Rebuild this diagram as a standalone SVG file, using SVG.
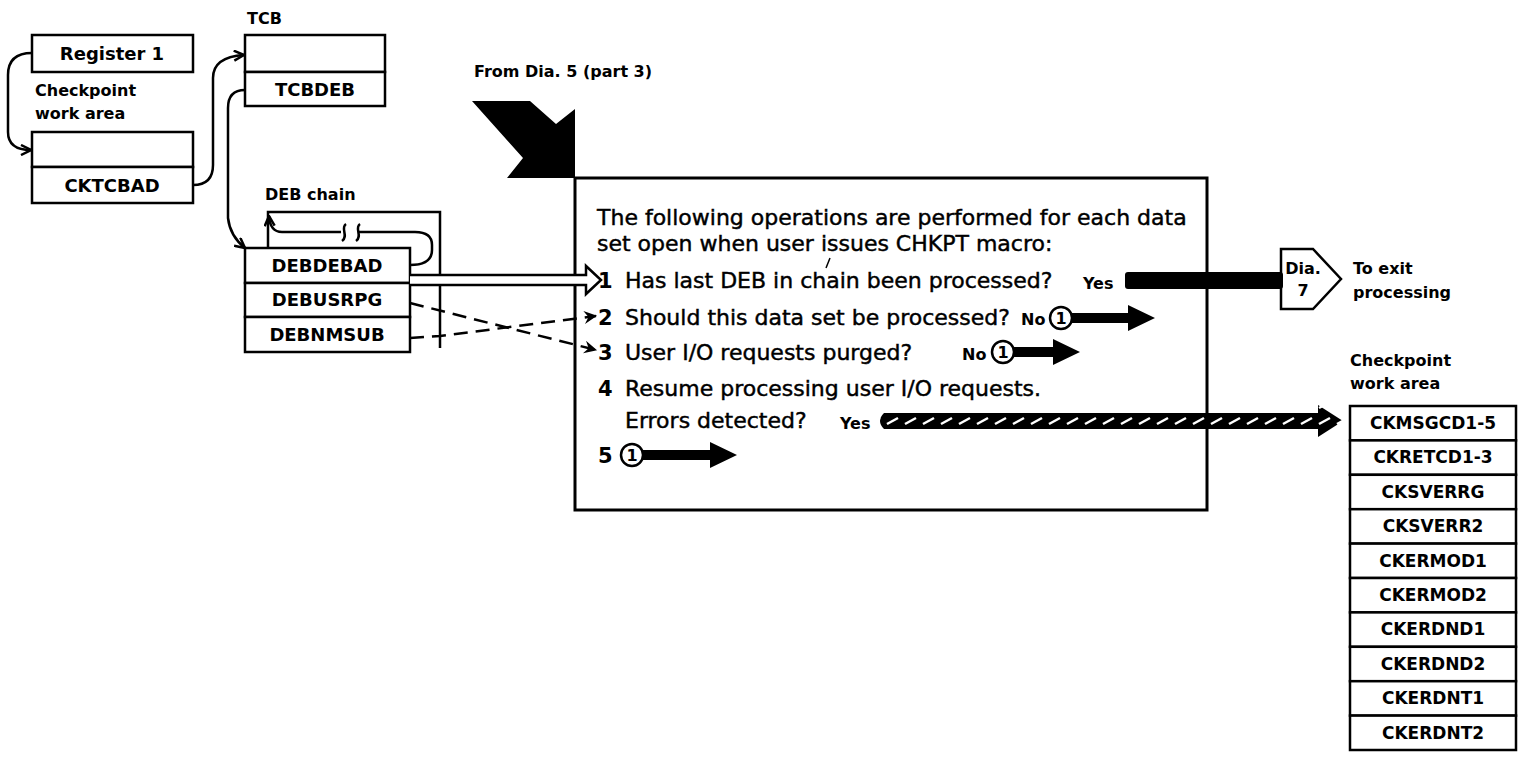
<svg xmlns="http://www.w3.org/2000/svg" width="1522" height="775" viewBox="0 0 1522 775">
  <defs>
    <style>
      .box { fill: #fff; stroke: #000; stroke-width: 2.5; }
      .lbl { font-family: 'DejaVu Sans', 'Liberation Sans', sans-serif; font-weight: bold; font-size: 18px; text-anchor: middle; fill: #000; }
      .lst { font-family: 'DejaVu Sans', 'Liberation Sans', sans-serif; font-weight: bold; font-size: 17px; text-anchor: middle; fill: #000; }
      .cap { font-family: 'DejaVu Sans', 'Liberation Sans', sans-serif; font-weight: bold; font-size: 16px; fill: #000; }
      .body { font-family: 'DejaVu Sans', 'Liberation Sans', sans-serif; font-size: 22px; fill: #000; stroke: #000; stroke-width: 0.45; }
      .num { font-family: 'DejaVu Sans', 'Liberation Sans', sans-serif; font-weight: bold; font-size: 21px; fill: #000; }
      .small { font-family: 'DejaVu Sans', 'Liberation Sans', sans-serif; font-weight: bold; font-size: 16px; fill: #000; }
      .conn { fill: none; stroke: #000; stroke-width: 2.5; }
      .dash { stroke-dasharray: 14 8; }
      .solid { fill: #000; stroke: none; }
      .ring { fill: #fff; stroke: #000; stroke-width: 2.5; }
    </style>
    <marker id="chev" viewBox="0 0 12 12" refX="11" refY="6" markerWidth="12" markerHeight="12" markerUnits="userSpaceOnUse" orient="auto">
      <path d="M1,1 L11,6 L1,11" fill="none" stroke="#000" stroke-width="2.5"/>
    </marker>
    <marker id="dart" viewBox="0 0 12 12" refX="11" refY="6" markerWidth="13" markerHeight="13" markerUnits="userSpaceOnUse" orient="auto">
      <path d="M0,0 L12,6 L0,12 L4,6 Z" fill="#000"/>
    </marker>
    <pattern id="hatch" x="884" y="413" width="18" height="16" patternUnits="userSpaceOnUse">
      <rect width="18" height="16" fill="#000"/>
      <path d="M3,11 L14,5" stroke="#fff" stroke-width="2.5"/>
    </pattern>
  </defs>

  <!-- Register 1 -->
  <g id="register1">
    <rect class="box" x="32" y="35" width="161" height="37"/>
    <text class="lbl" x="112" y="60">Register 1</text>
  </g>

  <!-- Checkpoint work area (left) -->
  <g id="ckwork">
    <text class="cap" x="35" y="96">Checkpoint</text>
    <text class="cap" x="35" y="119">work area</text>
    <rect class="box" x="32" y="132" width="161" height="35"/>
    <rect class="box" x="32" y="167" width="161" height="36"/>
    <text class="lbl" x="112" y="192">CKTCBAD</text>
  </g>

  <!-- TCB -->
  <g id="tcb">
    <text class="cap" x="247" y="24">TCB</text>
    <rect class="box" x="245" y="35" width="140" height="37"/>
    <rect class="box" x="245" y="72" width="140" height="34"/>
    <text class="lbl" x="315" y="96">TCBDEB</text>
  </g>

  <!-- DEB chain -->
  <g id="debchain">
    <text class="cap" x="265" y="200">DEB chain</text>
    <path class="conn" d="M268,248 L268,212 L440,212 L440,348"/>
    <rect class="box" x="245" y="248" width="165" height="35"/>
    <rect class="box" x="245" y="283" width="165" height="34"/>
    <rect class="box" x="245" y="317" width="165" height="35"/>
    <text class="lbl" x="327" y="272">DEBDEBAD</text>
    <text class="lbl" x="327" y="306">DEBUSRPG</text>
    <text class="lbl" x="327" y="341">DEBNMSUB</text>
  </g>

  <!-- Entry from Dia. 5 -->
  <g id="entry">
    <text class="cap" x="474" y="77">From Dia. 5 (part 3)</text>
    <polygon class="solid" points="472,101 530,101 556,124 575,109 575,178 507,178 523,158"/>
  </g>

  <!-- Processing box -->
  <g id="process">
    <rect x="575" y="178" width="632" height="332" fill="#fff" stroke="#000" stroke-width="3"/>
    <text class="body" x="597" y="225">The following operations are performed for each data</text>
    <text class="body" x="597" y="251">set open when user issues CHKPT macro:</text>
    <text class="num" x="598" y="288">1</text>
    <text class="body" x="625" y="288">Has last DEB in chain been processed?</text>
    <path d="M826,268 L830,258" stroke="#000" stroke-width="1.5"/>
    <text class="small" x="1083" y="289">Yes</text>
    <text class="num" x="598" y="325">2</text>
    <text class="body" x="625" y="325">Should this data set be processed?</text>
    <text class="small" x="1021" y="325">No</text>
    <text class="num" x="598" y="360">3</text>
    <text class="body" x="625" y="360">User I/O requests purged?</text>
    <text class="small" x="962" y="360">No</text>
    <text class="num" x="598" y="396">4</text>
    <text class="body" x="625" y="396">Resume processing user I/O requests.</text>
    <text class="body" x="625" y="428">Errors detected?</text>
    <text class="small" x="840" y="429">Yes</text>
    <text class="num" x="598" y="463">5</text>
  </g>

  <!-- Off-page connector to Dia. 7 -->
  <g id="dia7">
    <polygon class="box" points="1281,249 1313,249 1341,279 1313,309 1281,309"/>
    <text class="cap" x="1303" y="274" font-size="17" text-anchor="middle">Dia.</text>
    <text class="cap" x="1303" y="296" font-size="17" text-anchor="middle">7</text>
    <text class="cap" x="1353" y="274">To exit</text>
    <text class="cap" x="1353" y="298">processing</text>
  </g>

  <!-- Checkpoint work area (right) -->
  <g id="ckfields">
    <text class="cap" x="1350" y="366">Checkpoint</text>
    <text class="cap" x="1350" y="389">work area</text>
    <rect class="box" x="1350" y="406" width="166" height="34.4"/>
    <rect class="box" x="1350" y="440.4" width="166" height="34.4"/>
    <rect class="box" x="1350" y="474.8" width="166" height="34.4"/>
    <rect class="box" x="1350" y="509.2" width="166" height="34.4"/>
    <rect class="box" x="1350" y="543.6" width="166" height="34.4"/>
    <rect class="box" x="1350" y="578" width="166" height="34.4"/>
    <rect class="box" x="1350" y="612.4" width="166" height="34.4"/>
    <rect class="box" x="1350" y="646.8" width="166" height="34.4"/>
    <rect class="box" x="1350" y="681.2" width="166" height="34.4"/>
    <rect class="box" x="1350" y="715.6" width="166" height="34.4"/>
    <text class="lst" x="1433" y="429">CKMSGCD1-5</text>
    <text class="lst" x="1433" y="463.4">CKRETCD1-3</text>
    <text class="lst" x="1433" y="497.8">CKSVERRG</text>
    <text class="lst" x="1433" y="532.2">CKSVERR2</text>
    <text class="lst" x="1433" y="566.6">CKERMOD1</text>
    <text class="lst" x="1433" y="601">CKERMOD2</text>
    <text class="lst" x="1433" y="635.4">CKERDND1</text>
    <text class="lst" x="1433" y="669.8">CKERDND2</text>
    <text class="lst" x="1433" y="704.2">CKERDNT1</text>
    <text class="lst" x="1433" y="738.6">CKERDNT2</text>
  </g>

  <!-- Connectors -->
  <g id="connectors">
    <!-- pointer chain -->
    <path class="conn" d="M32,53 Q8,53 8,75 L8,132 Q8,150 31,150" marker-end="url(#chev)"/>
    <path class="conn" d="M193,185 Q213,185 213,165 L213,78 Q213,57 244,55" marker-end="url(#chev)"/>
    <path class="conn" d="M245,90 Q228,90 228,108 L228,218 Q230,236 245,248" marker-end="url(#chev)"/>
    <!-- DEB chain loop with break -->
    <path class="conn" d="M410,265 Q432,265 432,250 L432,245 Q432,232 415,232 L358,232"/>
    <path class="conn" d="M341,232 L282,232 Q270,232 269,216" marker-end="url(#chev)"/>
    <path class="conn" d="M346,224 C340,228 349,236 342,241" stroke-width="2"/>
    <path class="conn" d="M360,224 C354,228 363,236 356,241" stroke-width="2"/>
    <!-- DEBDEBAD to step 1 -->
    <path d="M410,275 L586,275 L586,266 L601,280 L586,294 L586,285 L410,285" fill="#fff" stroke="#000" stroke-width="2.5" stroke-linejoin="miter"/>
    <!-- dashed field references -->
    <path class="conn dash" d="M410,303 L596,350" marker-end="url(#dart)"/>
    <path class="conn dash" d="M410,338 L440,336 L596,316" marker-end="url(#dart)"/>
    <!-- step 1 Yes to Dia. 7 -->
    <rect class="solid" x="1125" y="272" width="158" height="17" rx="3"/>
    <!-- connector circles with exit arrows -->
    <path class="solid" d="M1070,313 L1128,313 L1128,305 L1155,318 L1128,331 L1128,323 L1070,323 Z"/>
    <circle class="ring" cx="1061" cy="318" r="11"/>
    <text class="small" x="1061" y="324" font-size="15" text-anchor="middle">1</text>
    <path class="solid" d="M1012,347 L1053,347 L1053,339 L1080,352 L1053,365 L1053,357 L1012,357 Z"/>
    <circle class="ring" cx="1003" cy="352" r="11"/>
    <text class="small" x="1003" y="358" font-size="15" text-anchor="middle">1</text>
    <path class="solid" d="M641,450 L710,450 L710,442 L737,455 L710,468 L710,460 L641,460 Z"/>
    <circle class="ring" cx="632" cy="455" r="11"/>
    <text class="small" x="632" y="461" font-size="15" text-anchor="middle">1</text>
    <!-- hatched error arrow -->
    <path d="M884,413 L1318,413 L1318,405 L1343,421 L1318,437 L1318,429 L884,429 Q876,421 884,413 Z" fill="url(#hatch)"/>
  </g>
</svg>
